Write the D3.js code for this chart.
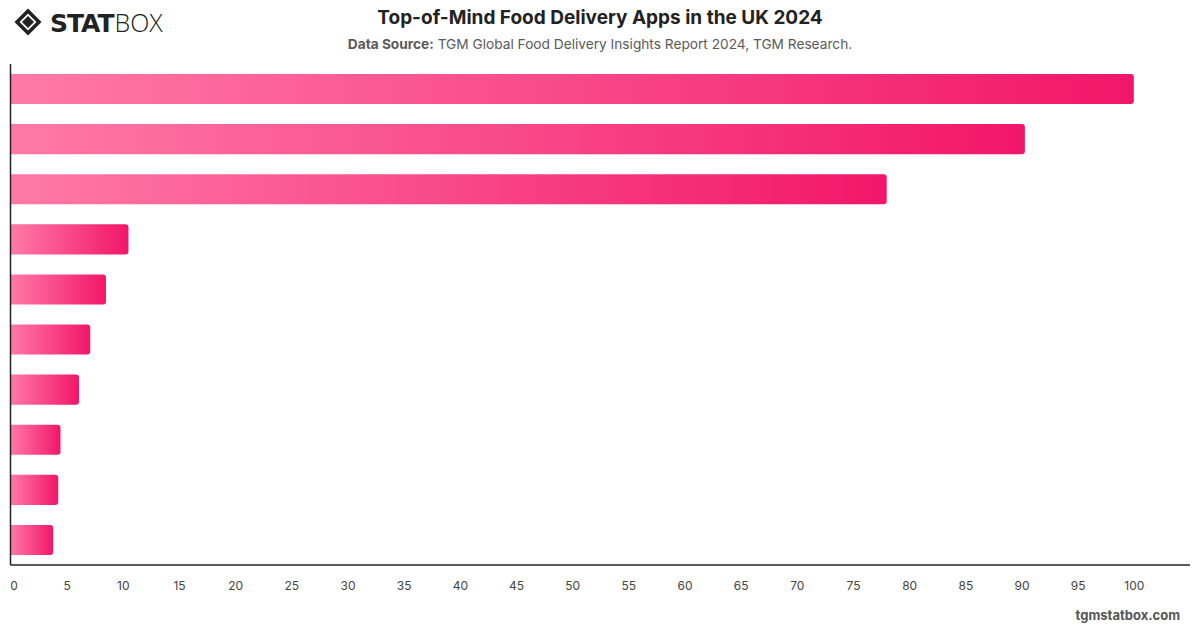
<!DOCTYPE html>
<html><head><meta charset="utf-8">
<script src="https://cdn.jsdelivr.net/npm/d3@7"></script>
<style>
html,body{margin:0;padding:0;background:#fff;}
svg{display:block;font-family:"Inter","Helvetica Neue",Arial,sans-serif;}
</style></head>
<body>
<svg id="chart" width="1200" height="628"></svg>
<script>
const categories = ["Just Eat","Deliveroo","Uber Eats","Domino's","McDonald's","Pizza Hut","KFC","Tesco","Gousto","HelloFresh"];
const values = [100, 90.3, 78.0, 10.5, 8.5, 7.1, 6.1, 4.45, 4.25, 3.8];
const xTicks = [0,5,10,15,20,25,30,35,40,45,50,55,60,65,70,75,80,85,90,95,100];
const titleText = "Top-of-Mind Food Delivery Apps in the UK 2024";
const sourceLabel = "Data Source:";
const sourceText = " TGM Global Food Delivery Insights Report 2024, TGM Research.";
const footerText = "tgmstatbox.com";

const svg = d3.select("#chart");
const m = {left: 10.5, right: 1190, top: 64, bottom: 565};

const x = d3.scaleLinear().domain([0,105]).range([m.left, m.right]);
const y = d3.scaleBand().domain(categories).range([m.top, m.bottom]).paddingInner(0.4).paddingOuter(0.2);

const defs = svg.append("defs");
const grad = defs.append("linearGradient").attr("id","barGrad")
  .attr("x1","0%").attr("x2","100%").attr("y1","0%").attr("y2","0%");
grad.append("stop").attr("offset","0%").attr("stop-color","#ff7aa6");
grad.append("stop").attr("offset","100%").attr("stop-color","#f2166a");

// Title
svg.append("text").attr("x",600).attr("y",24).attr("text-anchor","middle")
  .attr("font-size",19).attr("font-weight",700).attr("fill","#222").text(titleText);
const sub = svg.append("text").attr("x",600).attr("y",49).attr("text-anchor","middle")
  .attr("font-size",13.7).attr("fill","#5a5a5a");
sub.append("tspan").attr("font-weight",700).text(sourceLabel);
sub.append("tspan").text(sourceText);

// Logo
const logo = svg.append("g").attr("transform","translate(15,9)");
logo.append("path").attr("d","M2,13 L13,2 L24,13 L13,24 Z").attr("fill","none").attr("stroke","#222").attr("stroke-width",3.6).attr("stroke-linejoin","miter");
logo.append("path").attr("d","M7,13 L13,7 L19,13 L13,19 Z").attr("fill","#222");
const lt = svg.append("text").attr("x",50).attr("y",32).attr("font-size",25).attr("fill","#222");
lt.append("tspan").attr("font-weight",900).attr("letter-spacing",-1).attr("font-family","'DejaVu Sans', sans-serif").text("STAT");
lt.append("tspan").attr("font-weight",300).attr("dx",1).attr("font-family","'Open Sans', sans-serif").text("BOX");

// Bars
const r = 3;
svg.append("g").selectAll("path").data(values).join("path")
  .attr("fill","url(#barGrad)")
  .attr("d",(d,i)=>{
    const x0 = x(0), x1 = x(d), y0 = y(categories[i]), h = y.bandwidth();
    return `M${x0},${y0} H${x1-r} Q${x1},${y0} ${x1},${y0+r} V${y0+h-r} Q${x1},${y0+h} ${x1-r},${y0+h} H${x0} Z`;
  });

// Axes
const xAxis = svg.append("g").attr("transform",`translate(0,${m.bottom})`)
  .call(d3.axisBottom(x).tickValues(xTicks).tickSize(0).tickPadding(16));
xAxis.select(".domain").attr("stroke","#222").attr("stroke-width",1.5).attr("d",`M${m.left},0H${m.right}`);
xAxis.selectAll("text").attr("font-size",12).attr("fill","#444").attr("font-family","Inter, Arial, sans-serif")
  .attr("dx",(d)=> d===0 ? 3 : 0);

svg.append("line").attr("x1",m.left).attr("x2",m.left).attr("y1",m.top).attr("y2",m.bottom)
  .attr("stroke","#222").attr("stroke-width",1.5);

// Footer
svg.append("text").attr("x",1180).attr("y",620).attr("text-anchor","end")
  .attr("font-size",13).attr("font-weight",700).attr("fill","#555").text(footerText);
</script>
</body></html>
